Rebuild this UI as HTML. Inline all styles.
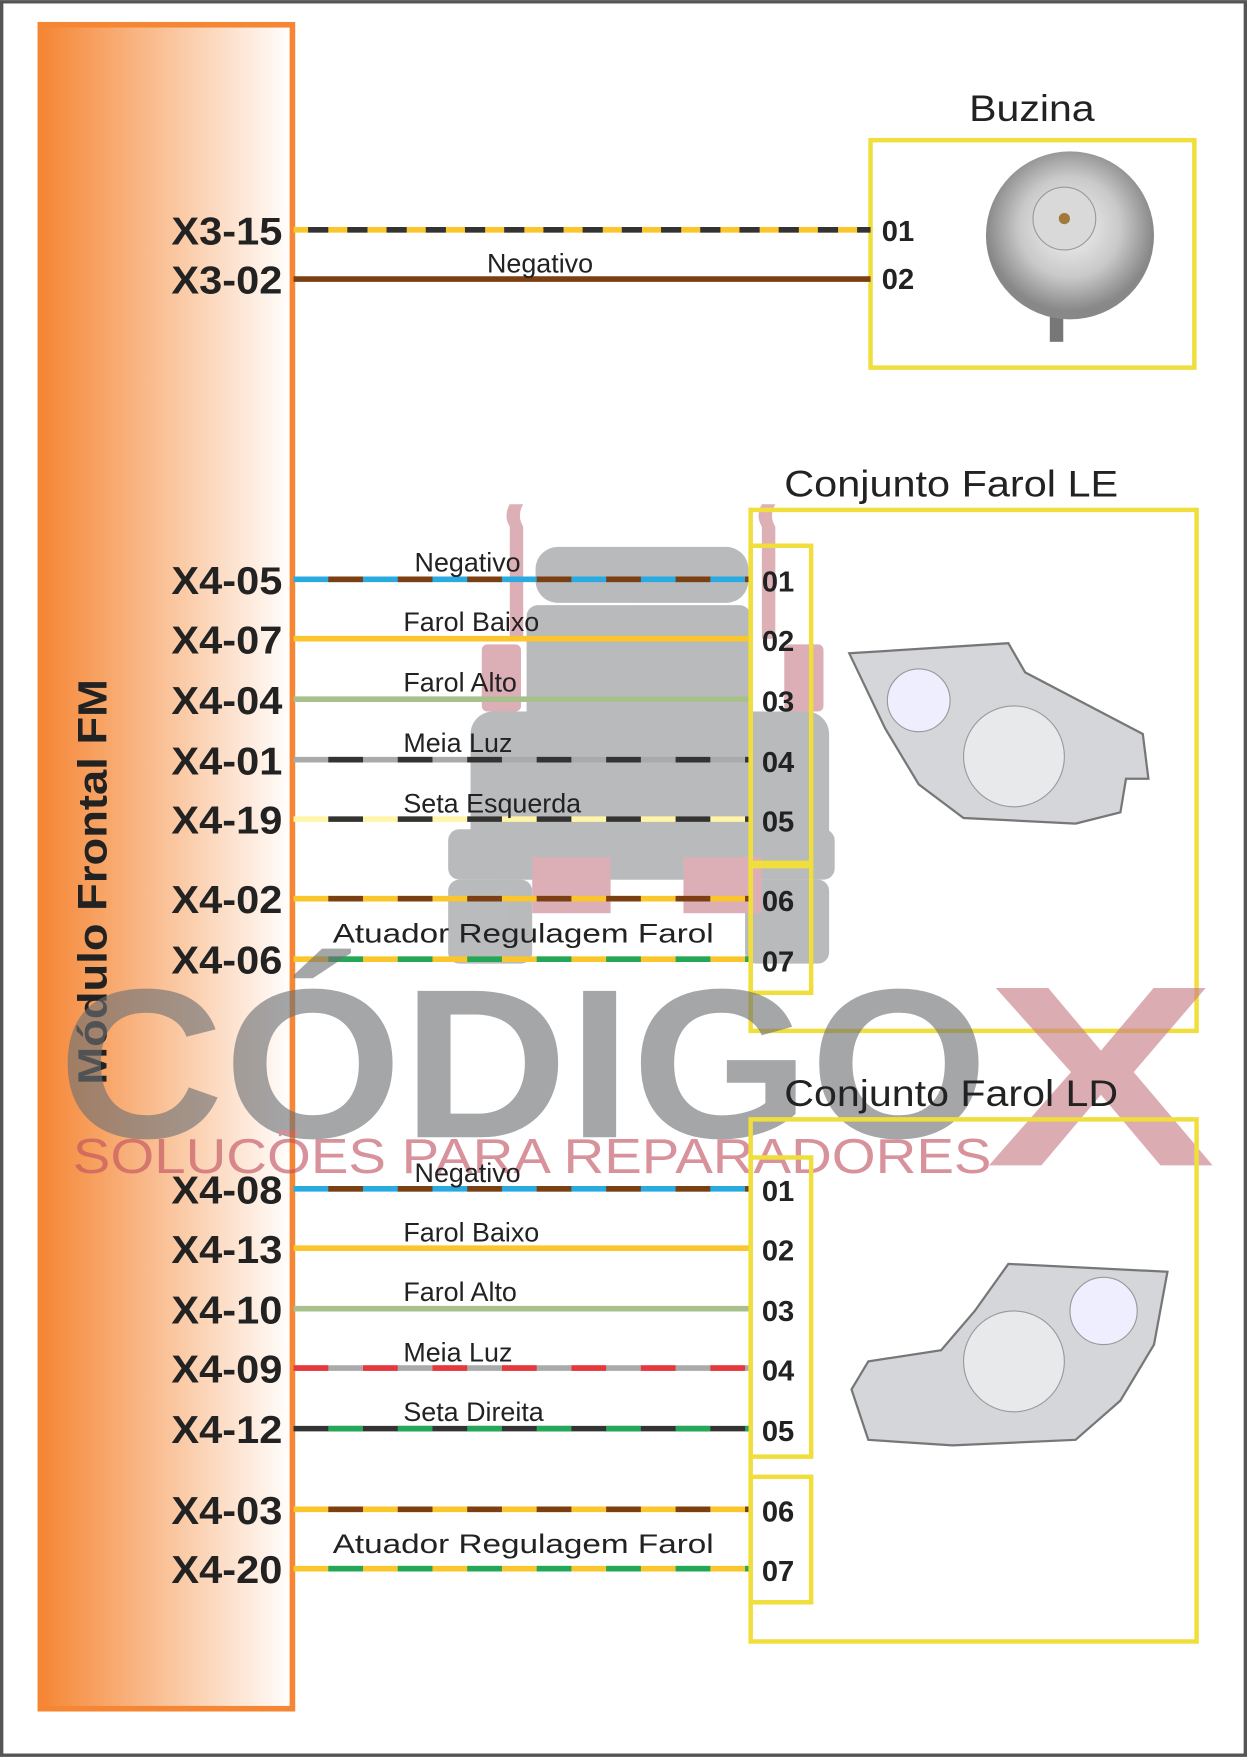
<!DOCTYPE html>
<html><head><meta charset="utf-8"><style>
html,body{margin:0;padding:0;background:#fff;}
svg{display:block;}
text{font-family:"Liberation Sans",sans-serif;}
.pin{font-weight:bold;font-size:26px;fill:#222;}
.lbl{font-weight:bold;font-size:35px;fill:#222;}
.wl{font-size:24px;fill:#222;}
.tt{font-size:33px;fill:#222;}
</style></head><body>
<svg width="1247" height="1757" viewBox="0 0 1113 1568" xmlns="http://www.w3.org/2000/svg">
<defs>
<linearGradient id="og" x1="0" x2="1" y1="0" y2="0">
<stop offset="0" stop-color="#f58634"/><stop offset="1" stop-color="#ffffff"/>
</linearGradient>
<radialGradient id="hg" cx="0.5" cy="0.45" r="0.5">
<stop offset="0" stop-color="#f4f4f4"/><stop offset="0.6" stop-color="#c9c9c9"/><stop offset="1" stop-color="#888"/>
</radialGradient>
</defs>
<rect x="1.5" y="1.5" width="1110" height="1565" fill="#fff" stroke="#555" stroke-width="3"/>
<rect x="36" y="22" width="225" height="1503" fill="url(#og)" stroke="#f58634" stroke-width="5"/>
<text transform="translate(95,787) rotate(-90)" text-anchor="middle" font-weight="bold" font-size="36" fill="#222" textLength="362" lengthAdjust="spacingAndGlyphs">Módulo Frontal FM</text>

<g opacity="0.6">
<path d="M455 470 q-6-10 0-20 l12 0 q-6 10 0 20 l0 100 l-12 0z" fill="#c67b86"/>
<path d="M680 470 q-6-10 0-20 l12 0 q-6 10 0 20 l0 100 l-12 0z" fill="#c67b86"/>
<rect x="478" y="488" width="190" height="50" rx="20" fill="#8a8d91"/>
<rect x="470" y="540" width="200" height="120" rx="10" fill="#8a8d91"/>
<rect x="420" y="635" width="320" height="150" rx="20" fill="#8a8d91"/>
<rect x="400" y="740" width="345" height="45" rx="10" fill="#8a8d91"/>
<rect x="400" y="785" width="75" height="75" rx="10" fill="#8a8d91"/>
<rect x="665" y="785" width="75" height="75" rx="10" fill="#8a8d91"/>
<rect x="475" y="765" width="70" height="50" fill="#c67b86"/>
<rect x="610" y="765" width="70" height="50" fill="#c67b86"/>
<rect x="430" y="575" width="35" height="60" rx="5" fill="#c67b86"/>
<rect x="700" y="575" width="35" height="60" rx="5" fill="#c67b86"/>
</g>

<text x="921" y="108" text-anchor="middle" class="tt" textLength="112" lengthAdjust="spacingAndGlyphs">Buzina</text>
<rect x="777" y="125" width="289" height="203" fill="none" stroke="#f0de3c" stroke-width="4"/>
<rect x="937" y="260" width="12" height="45" fill="#777"/>
<circle cx="955" cy="210" r="75" fill="url(#hg)"/>
<circle cx="950" cy="195" r="28" fill="#d9d9d9" stroke="#999"/>
<circle cx="950" cy="195" r="5" fill="#a07a3a"/>

<line x1="262" y1="205" x2="777" y2="205" stroke="#fbc52c" stroke-width="5"/>
<line x1="262" y1="205" x2="777" y2="205" stroke="#333" stroke-width="5" stroke-dasharray="18 17" stroke-dashoffset="-13"/>
<line x1="262" y1="249" x2="777" y2="249" stroke="#7b3f12" stroke-width="5"/>
<text x="482" y="243" text-anchor="middle" class="wl">Negativo</text>
<g class="lbl" text-anchor="end">
<text x="252" y="218" textLength="99" lengthAdjust="spacingAndGlyphs">X3-15</text>
<text x="252" y="262" textLength="99" lengthAdjust="spacingAndGlyphs">X3-02</text>
</g>
<text x="787" y="215" class="pin">01</text>
<text x="787" y="258" class="pin">02</text>

<text x="700" y="443" class="tt" textLength="298" lengthAdjust="spacingAndGlyphs">Conjunto Farol LE</text>
<rect x="670" y="455" width="398" height="465" fill="none" stroke="#f0de3c" stroke-width="4"/>
<rect x="670" y="487" width="54" height="283" fill="none" stroke="#f0de3c" stroke-width="4"/>
<rect x="670" y="773" width="54" height="113" fill="none" stroke="#f0de3c" stroke-width="4"/>
<path d="M758 583 L900 574 L915 600 L1020 655 L1025 695 L1005 695 L1000 725 L960 735 L860 730 L820 700 L790 650 Z" fill="#d4d6da" stroke="#777" stroke-width="2"/>
<circle cx="905" cy="675" r="45" fill="#e8e9eb" stroke="#999"/>
<circle cx="820" cy="625" r="28" fill="#eef" stroke="#999"/>

<g stroke-width="5">
<line x1="262" y1="517" x2="668" y2="517" stroke="#29abe2"/>
<line x1="262" y1="517" x2="668" y2="517" stroke="#7b3f12" stroke-dasharray="31 31" stroke-dashoffset="-31"/>
<line x1="262" y1="570" x2="668" y2="570" stroke="#fbc52c"/>
<line x1="262" y1="624" x2="668" y2="624" stroke="#a8c08c"/>
<line x1="262" y1="678" x2="668" y2="678" stroke="#aaa"/>
<line x1="262" y1="678" x2="668" y2="678" stroke="#333" stroke-dasharray="31 31" stroke-dashoffset="-31"/>
<line x1="262" y1="731" x2="668" y2="731" stroke="#fff4a8"/>
<line x1="262" y1="731" x2="668" y2="731" stroke="#333" stroke-dasharray="31 31" stroke-dashoffset="-31"/>
<line x1="262" y1="802" x2="668" y2="802" stroke="#fbc52c"/>
<line x1="262" y1="802" x2="668" y2="802" stroke="#7b3f12" stroke-dasharray="31 31" stroke-dashoffset="-31"/>
<line x1="262" y1="856" x2="668" y2="856" stroke="#fbc52c"/>
<line x1="262" y1="856" x2="668" y2="856" stroke="#23a85a" stroke-dasharray="31 31" stroke-dashoffset="-31"/>
</g>
<text x="370" y="510" class="wl">Negativo</text>
<text x="360" y="563" class="wl">Farol Baixo</text>
<text x="360" y="617" class="wl">Farol Alto</text>
<text x="360" y="671" class="wl">Meia Luz</text>
<text x="360" y="725" class="wl">Seta Esquerda</text>
<text x="297" y="841" class="wl" textLength="340" lengthAdjust="spacingAndGlyphs">Atuador Regulagem Farol</text>
<g class="lbl" text-anchor="end">
<text x="252" y="530" textLength="99" lengthAdjust="spacingAndGlyphs">X4-05</text>
<text x="252" y="583" textLength="99" lengthAdjust="spacingAndGlyphs">X4-07</text>
<text x="252" y="637" textLength="99" lengthAdjust="spacingAndGlyphs">X4-04</text>
<text x="252" y="691" textLength="99" lengthAdjust="spacingAndGlyphs">X4-01</text>
<text x="252" y="744" textLength="99" lengthAdjust="spacingAndGlyphs">X4-19</text>
<text x="252" y="815" textLength="99" lengthAdjust="spacingAndGlyphs">X4-02</text>
<text x="252" y="869" textLength="99" lengthAdjust="spacingAndGlyphs">X4-06</text>
</g>
<g class="pin">
<text x="680" y="528">01</text><text x="680" y="581">02</text><text x="680" y="635">03</text>
<text x="680" y="689">04</text><text x="680" y="742">05</text><text x="680" y="813">06</text><text x="680" y="867">07</text>
</g>

<g opacity="0.62">
<text x="52" y="1015" font-size="190" font-weight="bold" fill="#6d7074" textLength="830" lengthAdjust="spacingAndGlyphs">CÓDIGO</text>
<text x="880" y="1040" font-size="230" font-weight="bold" fill="#c67b86" textLength="205" lengthAdjust="spacingAndGlyphs">X</text>
<text x="65" y="1047" font-size="44" fill="#c0505f" textLength="820" lengthAdjust="spacingAndGlyphs">SOLUCÕES PARA REPARADORES</text>
</g>

<text x="700" y="987" class="tt" textLength="298" lengthAdjust="spacingAndGlyphs">Conjunto Farol LD</text>
<rect x="670" y="999" width="398" height="466" fill="none" stroke="#f0de3c" stroke-width="4"/>
<rect x="670" y="1033" width="54" height="267" fill="none" stroke="#f0de3c" stroke-width="4"/>
<rect x="670" y="1318" width="54" height="112" fill="none" stroke="#f0de3c" stroke-width="4"/>
<path d="M1042 1135 L900 1128 L870 1170 L840 1205 L775 1215 L760 1240 L775 1285 L850 1290 L960 1285 L1000 1250 L1030 1200 Z" fill="#d4d6da" stroke="#777" stroke-width="2"/>
<circle cx="905" cy="1215" r="45" fill="#e8e9eb" stroke="#999"/>
<circle cx="985" cy="1170" r="30" fill="#eef" stroke="#999"/>

<g stroke-width="5">
<line x1="262" y1="1061" x2="668" y2="1061" stroke="#29abe2"/>
<line x1="262" y1="1061" x2="668" y2="1061" stroke="#7b3f12" stroke-dasharray="31 31" stroke-dashoffset="-31"/>
<line x1="262" y1="1114" x2="668" y2="1114" stroke="#fbc52c"/>
<line x1="262" y1="1168" x2="668" y2="1168" stroke="#a8c08c"/>
<line x1="262" y1="1221" x2="668" y2="1221" stroke="#aaa"/>
<line x1="262" y1="1221" x2="668" y2="1221" stroke="#e8383d" stroke-dasharray="31 31"/>
<line x1="262" y1="1275" x2="668" y2="1275" stroke="#333"/>
<line x1="262" y1="1275" x2="668" y2="1275" stroke="#23a85a" stroke-dasharray="31 31" stroke-dashoffset="-31"/>
<line x1="262" y1="1347" x2="668" y2="1347" stroke="#fbc52c"/>
<line x1="262" y1="1347" x2="668" y2="1347" stroke="#7b3f12" stroke-dasharray="31 31" stroke-dashoffset="-31"/>
<line x1="262" y1="1400" x2="668" y2="1400" stroke="#fbc52c"/>
<line x1="262" y1="1400" x2="668" y2="1400" stroke="#23a85a" stroke-dasharray="31 31" stroke-dashoffset="-31"/>
</g>
<text x="370" y="1055" class="wl">Negativo</text>
<text x="360" y="1108" class="wl">Farol Baixo</text>
<text x="360" y="1161" class="wl">Farol Alto</text>
<text x="360" y="1215" class="wl">Meia Luz</text>
<text x="360" y="1268" class="wl">Seta Direita</text>
<text x="297" y="1386" class="wl" textLength="340" lengthAdjust="spacingAndGlyphs">Atuador Regulagem Farol</text>
<g class="lbl" text-anchor="end">
<text x="252" y="1074" textLength="99" lengthAdjust="spacingAndGlyphs">X4-08</text>
<text x="252" y="1127" textLength="99" lengthAdjust="spacingAndGlyphs">X4-13</text>
<text x="252" y="1181" textLength="99" lengthAdjust="spacingAndGlyphs">X4-10</text>
<text x="252" y="1234" textLength="99" lengthAdjust="spacingAndGlyphs">X4-09</text>
<text x="252" y="1288" textLength="99" lengthAdjust="spacingAndGlyphs">X4-12</text>
<text x="252" y="1360" textLength="99" lengthAdjust="spacingAndGlyphs">X4-03</text>
<text x="252" y="1413" textLength="99" lengthAdjust="spacingAndGlyphs">X4-20</text>
</g>
<g class="pin">
<text x="680" y="1072">01</text><text x="680" y="1125">02</text><text x="680" y="1179">03</text>
<text x="680" y="1232">04</text><text x="680" y="1286">05</text><text x="680" y="1358">06</text><text x="680" y="1411">07</text>
</g>
</svg>
</body></html>
